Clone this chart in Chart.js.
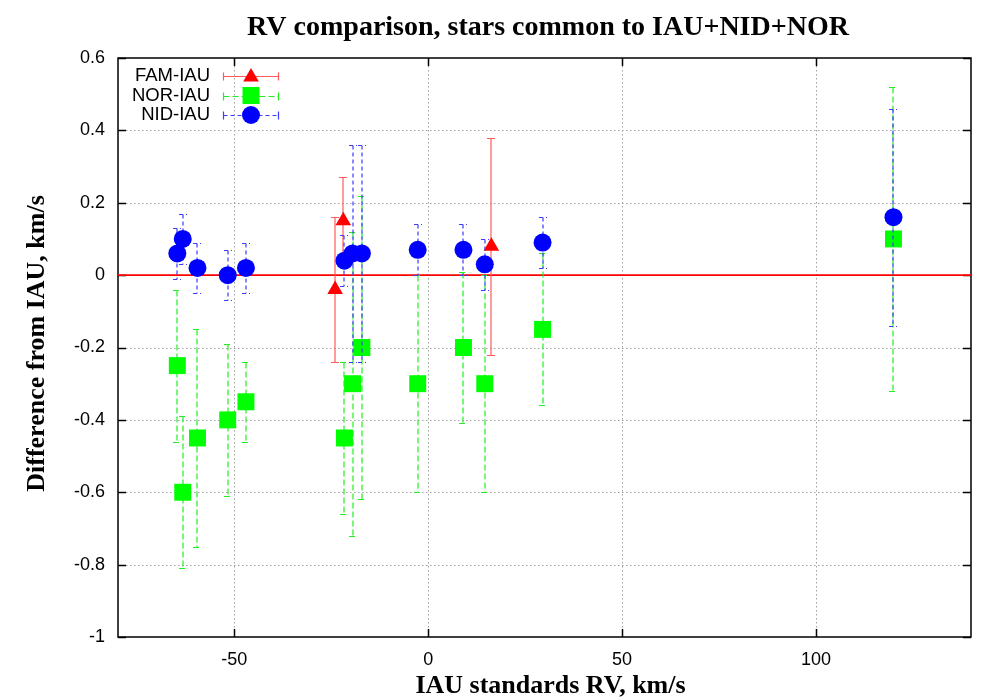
<!DOCTYPE html>
<html>
<head>
<meta charset="utf-8">
<script src="https://cdn.jsdelivr.net/npm/chart.js@4.4.1/dist/chart.umd.min.js"></script>
<style>
  html, body { margin: 0; padding: 0; background: #fff; }
</style>
</head>
<body>
<canvas id="rvChart" width="1000" height="700"></canvas>
<script>
// axis ranges and ticks
var xMin = -80, xMax = 140;
var yMin = -1, yMax = 0.6;
var xTicks = [-50, 0, 50, 100];
var yTicks = [-1, -0.8, -0.6, -0.4, -0.2, 0, 0.2, 0.4, 0.6];

// FAM-IAU
var famRV = [-24.0, -21.9, 16.3];
var famDiff = [-0.04, 0.15, 0.08];
var famErr = [0.20, 0.12, 0.30];

// stars common to IAU+NID+NOR
var commonRV = [-64.7, -63.3, -59.5, -51.7, -47.0, -21.6, -19.5, -17.1, -2.7, 9.1, 14.6, 29.5, 120];
var norDiff = [-0.25, -0.60, -0.45, -0.40, -0.35, -0.45, -0.30, -0.20, -0.30, -0.20, -0.30, -0.15, 0.10];
var norErr = [0.21, 0.21, 0.30, 0.21, 0.11, 0.21, 0.42, 0.42, 0.30, 0.21, 0.30, 0.21, 0.42];
var nidDiff = [0.06, 0.10, 0.02, 0.00, 0.02, 0.04, 0.06, 0.06, 0.07, 0.07, 0.03, 0.09, 0.16];
var nidErr = [0.07, 0.07, 0.07, 0.07, 0.07, 0.07, 0.30, 0.30, 0.07, 0.07, 0.07, 0.07, 0.30];

function toPoints(xs, ys, es) {
  return xs.map(function(x, i) { return { x: x, y: ys[i], e: es[i] }; });
}

var serif = '"Liberation Serif", "Times New Roman", serif';
var sans = '"Liberation Sans", Arial, sans-serif';

// grid, frame and inward ticks (gnuplot look)
var framePlugin = {
  id: 'frame',
  beforeDatasetsDraw: function(chart) {
    var ctx = chart.ctx, a = chart.chartArea;
    var xs = chart.scales.x, ys = chart.scales.y;
    ctx.save();
    ctx.strokeStyle = '#a0a0a0';
    ctx.lineWidth = 1;
    ctx.setLineDash([1.5, 2.5]);
    xTicks.forEach(function(v) {
      var px = Math.round(xs.getPixelForValue(v)) + 0.5;
      ctx.beginPath(); ctx.moveTo(px, a.top); ctx.lineTo(px, a.bottom); ctx.stroke();
    });
    yTicks.forEach(function(v) {
      if (v === yMin || v === yMax) return;
      var py = Math.round(ys.getPixelForValue(v)) + 0.5;
      ctx.beginPath(); ctx.moveTo(a.left, py); ctx.lineTo(a.right, py); ctx.stroke();
    });
    ctx.setLineDash([]);
    ctx.strokeStyle = '#000';
    ctx.lineWidth = 1.5;
    xTicks.forEach(function(v) {
      var px = Math.round(xs.getPixelForValue(v)) + 0.5;
      ctx.beginPath();
      ctx.moveTo(px, a.bottom); ctx.lineTo(px, a.bottom - 8);
      ctx.moveTo(px, a.top); ctx.lineTo(px, a.top + 8);
      ctx.stroke();
    });
    yTicks.forEach(function(v) {
      var py = Math.round(ys.getPixelForValue(v)) + 0.5;
      ctx.beginPath();
      ctx.moveTo(a.left, py); ctx.lineTo(a.left + 8, py);
      ctx.moveTo(a.right, py); ctx.lineTo(a.right - 8, py);
      ctx.stroke();
    });
    ctx.strokeRect(a.left, a.top, a.right - a.left, a.bottom - a.top);
    ctx.restore();
  }
};

// vertical error bars drawn just under each dataset's markers
var errorBarPlugin = {
  id: 'errorBars',
  beforeDatasetDraw: function(chart, args) {
    var ds = chart.data.datasets[args.index];
    if (!ds.errStyle) return;
    var ctx = chart.ctx, ys = chart.scales.y;
    ctx.save();
    ctx.strokeStyle = ds.errStyle.color;
    ctx.lineWidth = 1.2;
    ctx.setLineDash(ds.errStyle.dash);
    args.meta.data.forEach(function(el, i) {
      var raw = ds.data[i];
      var px = Math.round(el.x);
      var top = Math.round(ys.getPixelForValue(raw.y + raw.e)) + 0.5;
      var bot = Math.round(ys.getPixelForValue(raw.y - raw.e)) + 0.5;
      ctx.beginPath();
      ctx.moveTo(px, top); ctx.lineTo(px, bot);
      ctx.moveTo(px - 4, top); ctx.lineTo(px + 4, top);
      ctx.moveTo(px - 4, bot); ctx.lineTo(px + 4, bot);
      ctx.stroke();
    });
    ctx.restore();
  }
};

// title, axis titles and gnuplot style key
var textPlugin = {
  id: 'texts',
  afterDraw: function(chart) {
    var ctx = chart.ctx, a = chart.chartArea;
    ctx.save();
    ctx.fillStyle = '#000';
    ctx.font = 'bold 28px ' + serif;
    ctx.textAlign = 'center';
    ctx.textBaseline = 'middle';
    ctx.fillText('RV comparison, stars common to IAU+NID+NOR', 548, 28);
    ctx.font = 'bold 26px ' + serif;
    ctx.fillText('IAU standards RV, km/s', (a.left + a.right) / 2 + 6, 686);
    ctx.save();
    ctx.translate(37, (a.top + a.bottom) / 2 - 4);
    ctx.rotate(-Math.PI / 2);
    ctx.fillText('Difference from IAU, km/s', 0, 0);
    ctx.restore();

    var rows = chart.data.datasets.filter(function(d) { return d.errStyle; });
    rows.sort(function(p, q) { return p.keyRow - q.keyRow; });
    ctx.font = '18.5px ' + sans;
    ctx.textAlign = 'right';
    rows.forEach(function(d, i) {
      var y = 76 + i * 19.5;
      ctx.fillStyle = '#000';
      ctx.fillText(d.label, 210, y);
      var py = Math.round(y) + 0.5;
      ctx.strokeStyle = d.errStyle.color;
      ctx.lineWidth = 1.2;
      ctx.setLineDash(d.errStyle.dash);
      ctx.beginPath();
      ctx.moveTo(223.5, py); ctx.lineTo(278.5, py);
      ctx.stroke();
      ctx.setLineDash([]);
      ctx.beginPath();
      ctx.moveTo(223.5, py - 4); ctx.lineTo(223.5, py + 4);
      ctx.moveTo(278.5, py - 4); ctx.lineTo(278.5, py + 4);
      ctx.stroke();
      ctx.fillStyle = d.pointBackgroundColor;
      Chart.helpers.drawPoint(ctx, {
        pointStyle: d.pointStyle, radius: d.pointRadius, rotation: 0, borderWidth: 0
      }, 251, d.pointStyle === 'triangle' ? y + 1 : y);
    });
    ctx.restore();
  }
};

new Chart(document.getElementById('rvChart').getContext('2d'), {
  type: 'scatter',
  data: {
    datasets: [
      {
        label: 'FAM-IAU',
        data: toPoints(famRV, famDiff, famErr),
        pointStyle: 'triangle',
        pointRadius: 9,
        pointBackgroundColor: '#ff0000',
        pointBorderWidth: 0,
        errStyle: { color: '#ff5a5a', dash: [] },
        keyRow: 0,
        order: 3
      },
      {
        label: 'NOR-IAU',
        data: toPoints(commonRV, norDiff, norErr),
        pointStyle: 'rect',
        pointRadius: 12,
        pointBackgroundColor: '#00ff00',
        pointBorderWidth: 0,
        errStyle: { color: '#22ee22', dash: [6, 3] },
        keyRow: 1,
        order: 2
      },
      {
        label: 'NID-IAU',
        data: toPoints(commonRV, nidDiff, nidErr),
        pointStyle: 'circle',
        pointRadius: 9,
        pointBackgroundColor: '#0000ff',
        pointBorderWidth: 0,
        errStyle: { color: '#3c3cff', dash: [4, 3] },
        keyRow: 2,
        order: 1
      },
      {
        label: 'zero',
        data: [{ x: xMin, y: 0 }, { x: xMax, y: 0 }],
        showLine: true,
        borderColor: '#ff0000',
        borderWidth: 1.6,
        pointRadius: 0,
        order: 4
      }
    ]
  },
  options: {
    responsive: false,
    animation: false,
    devicePixelRatio: 1,
    layout: { padding: { top: 58, right: 29, left: 0, bottom: 0 } },
    plugins: {
      legend: { display: false },
      title: { display: false },
      tooltip: { enabled: false }
    },
    scales: {
      x: {
        type: 'linear',
        min: xMin,
        max: xMax,
        afterBuildTicks: function(scale) {
          scale.ticks = xTicks.map(function(v) { return { value: v }; });
        },
        afterFit: function(scale) { scale.height = 63; },
        grid: { display: false, drawTicks: false },
        border: { display: false },
        ticks: {
          padding: 12,
          color: '#000',
          font: { family: sans, size: 18 },
          callback: function(v) { return String(v); }
        }
      },
      y: {
        type: 'linear',
        min: yMin,
        max: yMax,
        afterBuildTicks: function(scale) {
          scale.ticks = yTicks.map(function(v) { return { value: v }; });
        },
        afterFit: function(scale) { scale.width = 118; },
        grid: { display: false, drawTicks: false },
        border: { display: false },
        ticks: {
          padding: 13,
          color: '#000',
          font: { family: sans, size: 18 },
          callback: function(v) { return String(Math.round(v * 10) / 10); }
        }
      }
    }
  },
  plugins: [framePlugin, errorBarPlugin, textPlugin]
});
</script>
</body>
</html>
